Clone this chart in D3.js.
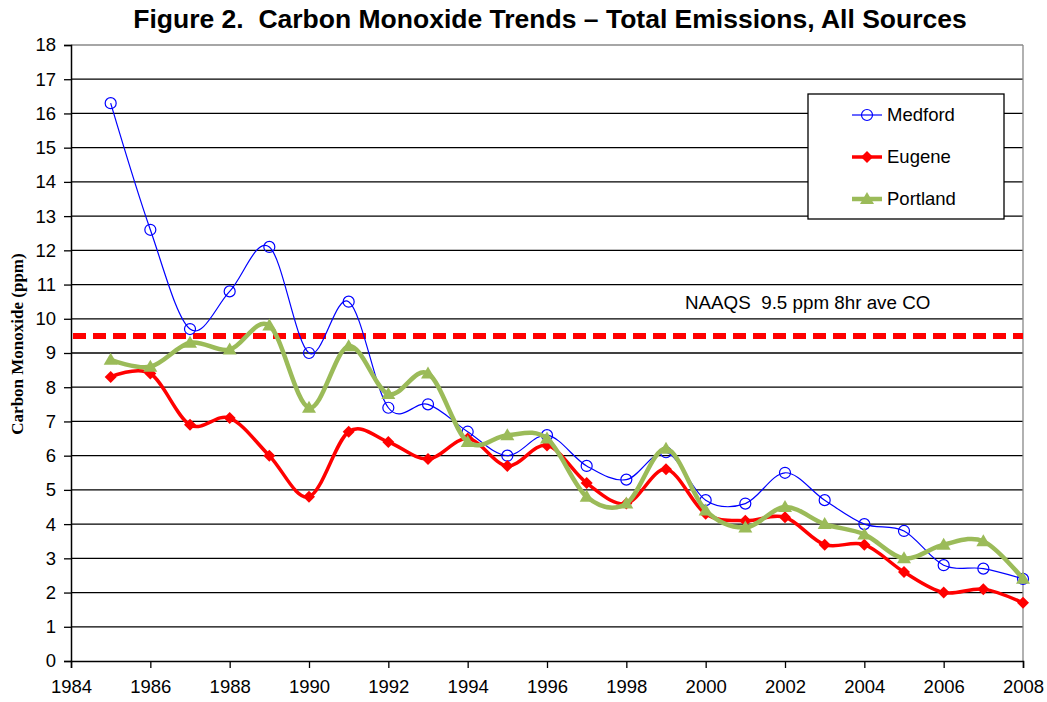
<!DOCTYPE html>
<html>
<head>
<meta charset="utf-8">
<script src="https://cdn.jsdelivr.net/npm/d3@7"></script>
<style>
  body { margin: 0; background: #fff; }
  svg { display: block; }
  text { white-space: pre; }
</style>
</head>
<body>
<div id="chart"></div>
<script>
const years = d3.range(1985, 2009);
const medford = [16.3, 12.6, 9.7, 10.8, 12.1, 9.0, 10.5, 7.4, 7.5, 6.7, 6.0, 6.6, 5.7, 5.3, 6.1, 4.7, 4.6, 5.5, 4.7, 4.0, 3.8, 2.8, 2.7, 2.4];
const eugene = [8.3, 8.4, 6.9, 7.1, 6.0, 4.8, 6.7, 6.4, 5.9, 6.5, 5.7, 6.3, 5.2, 4.6, 5.6, 4.3, 4.1, 4.2, 3.4, 3.4, 2.6, 2.0, 2.1, 1.7];
const portland = [8.8, 8.6, 9.3, 9.1, 9.8, 7.4, 9.2, 7.8, 8.4, 6.4, 6.6, 6.5, 4.8, 4.6, 6.2, 4.4, 3.9, 4.5, 4.0, 3.7, 3.0, 3.4, 3.5, 2.4];
const naaqs = 9.5;
const xTicks = d3.range(1984, 2009, 2);
const yTicks = d3.range(0, 19, 1);

const width = 1047, height = 702;
const margin = {top: 45, right: 24, bottom: 41, left: 71};

const svg = d3.select("#chart").append("svg")
  .attr("width", width)
  .attr("height", height);

const x = d3.scaleLinear().domain([1984, 2008]).range([margin.left, width - margin.right]);
const y = d3.scaleLinear().domain([0, 18]).range([height - margin.bottom, margin.top]);

// title
svg.append("text")
  .attr("x", 550).attr("y", 28)
  .attr("text-anchor", "middle")
  .style("font", "bold 26.5px Arial, 'Liberation Sans', sans-serif")
  .text("Figure 2.  Carbon Monoxide Trends \u2013 Total Emissions, All Sources");

// gridlines
svg.append("g")
  .selectAll("line")
  .data(yTicks.filter(d => d > 0))
  .join("line")
  .attr("x1", x(1984)).attr("x2", x(2008))
  .attr("y1", d => y(d)).attr("y2", d => y(d))
  .attr("stroke", d => d === 18 ? "#888" : "#000")
  .attr("stroke-width", 1.3);

// right border
svg.append("line")
  .attr("x1", x(2008)).attr("x2", x(2008))
  .attr("y1", y(18)).attr("y2", y(0))
  .attr("stroke", "#888").attr("stroke-width", 1.3);

// axes
const yAxis = svg.append("g")
  .attr("transform", `translate(${x(1984)},0)`)
  .call(d3.axisLeft(y).tickValues(yTicks).tickSize(7).tickPadding(8).tickFormat(d3.format("d")));
const xAxis = svg.append("g")
  .attr("transform", `translate(0,${y(0)})`)
  .call(d3.axisBottom(x).tickValues(xTicks).tickSize(7).tickPadding(12).tickFormat(d3.format("d")));

[xAxis, yAxis].forEach(g => {
  g.select(".domain").attr("stroke", "#000").attr("stroke-width", 1.5);
  g.selectAll(".tick line").attr("stroke", "#000").attr("stroke-width", 1.3);
  g.selectAll(".tick text")
    .attr("fill", "#000")
    .style("font", "18.5px Arial, 'Liberation Sans', sans-serif");
});

// y label
svg.append("text")
  .attr("transform", `translate(23,344) rotate(-90)`)
  .attr("text-anchor", "middle")
  .style("font", "bold 17px 'Times New Roman', 'Liberation Serif', serif")
  .text("Carbon Monoxide (ppm)");

// NAAQS line
svg.append("line")
  .attr("x1", x(1984) + 2).attr("x2", x(2008))
  .attr("y1", y(naaqs)).attr("y2", y(naaqs))
  .attr("stroke", "#ff0000")
  .attr("stroke-width", 6)
  .attr("stroke-dasharray", "13,7");

svg.append("text")
  .attr("x", 685).attr("y", 309)
  .style("font", "18.8px Arial, 'Liberation Sans', sans-serif")
  .text("NAAQS  9.5 ppm 8hr ave CO");

const series = [
  {name: "Medford", values: medford, color: "#0000ff", width: 1.2, marker: "circle"},
  {name: "Eugene", values: eugene, color: "#ff0000", width: 3.5, marker: "diamond"},
  {name: "Portland", values: portland, color: "#9bbb59", width: 4.5, marker: "triangle"}
];

const line = d3.line()
  .x(d => x(d[0]))
  .y(d => y(d[1]))
  .curve(d3.curveCardinal.tension(0));

function drawMarker(g, type, color, cx, cy) {
  if (type === "circle") {
    g.append("circle").attr("cx", cx).attr("cy", cy).attr("r", 5.5)
      .attr("fill", "none").attr("stroke", color).attr("stroke-width", 1.2);
  } else if (type === "diamond") {
    g.append("path")
      .attr("d", `M${cx},${cy - 6}L${cx + 6},${cy}L${cx},${cy + 6}L${cx - 6},${cy}Z`)
      .attr("fill", color);
  } else {
    g.append("path")
      .attr("d", `M${cx},${cy - 7}L${cx + 7},${cy + 5}L${cx - 7},${cy + 5}Z`)
      .attr("fill", color);
  }
}

series.forEach(s => {
  const pts = years.map((yr, i) => [yr, s.values[i]]);
  const g = svg.append("g");
  g.append("path")
    .attr("d", line(pts))
    .attr("fill", "none")
    .attr("stroke", s.color)
    .attr("stroke-width", s.width)
    .attr("stroke-linejoin", "round");
  pts.forEach(p => drawMarker(g, s.marker, s.color, x(p[0]), y(p[1])));
});

// legend
const legend = svg.append("g");
legend.append("rect")
  .attr("x", 808).attr("y", 94).attr("width", 196).attr("height", 125)
  .attr("fill", "#fff").attr("stroke", "#000").attr("stroke-width", 1.3);
series.forEach((s, i) => {
  const ly = 115 + i * 42;
  legend.append("line")
    .attr("x1", 852).attr("x2", 882).attr("y1", ly).attr("y2", ly)
    .attr("stroke", s.color).attr("stroke-width", s.width);
  drawMarker(legend, s.marker, s.color, 867, ly);
  legend.append("text")
    .attr("x", 887).attr("y", ly + 6)
    .style("font", "18.5px Arial, 'Liberation Sans', sans-serif")
    .text(s.name);
});
</script>
</body>
</html>
